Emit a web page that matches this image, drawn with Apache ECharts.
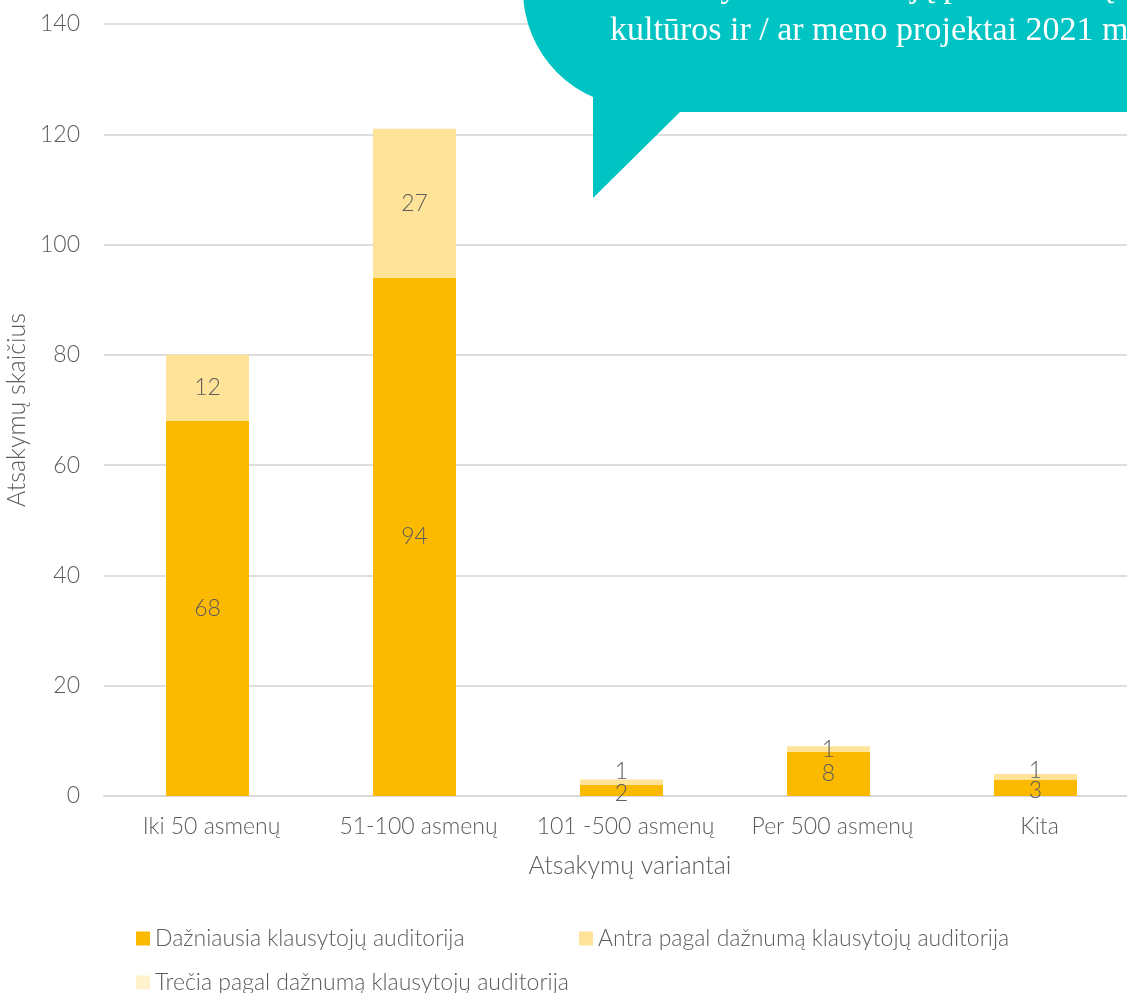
<!DOCTYPE html>
<html>
<head>
<meta charset="utf-8">
<script src="https://cdn.jsdelivr.net/npm/echarts@6/dist/echarts.min.js"></script>
<style>
html,body{margin:0;padding:0;background:#fff;overflow:hidden;width:1127px;height:993px;}
#chart{width:1139px;height:993px;}
</style>
</head>
<body>
<div id="chart"></div>
<script>
var categories = ['Iki 50 asmenų', '51-100 asmenų', '101 -500 asmenų', 'Per 500 asmenų', 'Kita'];
var seriesNames = ['Dažniausia klausytojų auditorija', 'Antra pagal dažnumą klausytojų auditorija', 'Trečia pagal dažnumą klausytojų auditorija'];
var dazniausia = [68, 94, 2, 8, 3];
var antra = [12, 27, 1, 1, 1];
var trecia = [0, 0, 0, 0, 0];
var yTicks = [0, 20, 40, 60, 80, 100, 120, 140];
var bubbleLine1 = 'Kokio dydžio auditoriją pasiekė Jūsų (organizacijos) įgyvendinti';
var bubbleLine2 = 'kultūros ir / ar meno projektai 2021 m.';

var FONT = 'Lato, "Noto Sans", sans-serif';
var TXT = '#5c5c5c';
var FW = 300;

var chart = echarts.init(document.getElementById('chart'));

function lbl() {
  return {
    show: true, position: 'inside', color: TXT, fontFamily: FONT, fontWeight: FW, fontSize: 23,
    formatter: function (p) { return p.value === 0 ? '' : p.value; }
  };
}

var antraData = antra.map(function (v, i) {
  var d = { value: v };
  if (i === 2) d.label = { offset: [0, -11] };
  if (i === 4) d.label = { offset: [0, -6] };
  return d;
});
var dazData = dazniausia.map(function (v, i) {
  var d = { value: v };
  if (i === 2) d.label = { offset: [0, 3] };
  if (i === 4) d.label = { offset: [0, 3] };
  return d;
});

var legendText = { color: TXT, fontFamily: FONT, fontWeight: FW, fontSize: 23, padding: [0, 0, 0, 0] };

chart.setOption({
  animation: false,
  grid: { left: 104, right: 0, top: 24, bottom: 197, containLabel: false, outerBoundsMode: 'none' },
  legend: [
    { data: [seriesNames[0]], left: 131, top: 922, icon: 'rect', itemWidth: 14, itemHeight: 14, itemGap: 0, textStyle: legendText },
    { data: [seriesNames[1]], left: 574, top: 922, icon: 'rect', itemWidth: 14, itemHeight: 14, itemGap: 0, textStyle: legendText },
    { data: [seriesNames[2]], left: 131, top: 966, icon: 'rect', itemWidth: 14, itemHeight: 14, itemGap: 0, textStyle: legendText }
  ],
  xAxis: {
    type: 'category',
    data: categories,
    name: 'Atsakymų variantai',
    nameLocation: 'middle',
    nameGap: 57,
    nameTextStyle: { color: TXT, fontFamily: FONT, fontWeight: FW, fontSize: 25, padding: [0, 0, 0, 17] },
    axisTick: { show: false },
    axisLine: { lineStyle: { color: '#D9D9D9', width: 2 } },
    axisLabel: { interval: 0, color: TXT, fontFamily: FONT, fontWeight: FW, fontSize: 23, margin: 19, padding: [0, 0, 0, 8] }
  },
  yAxis: {
    type: 'value',
    min: yTicks[0],
    max: yTicks[yTicks.length - 1],
    interval: 20,
    name: 'Atsakymų skaičius',
    nameLocation: 'middle',
    nameGap: 64,
    nameTextStyle: { color: TXT, fontFamily: FONT, fontWeight: FW, fontSize: 25 },
    axisLine: { show: false },
    axisTick: { show: false },
    axisLabel: { color: TXT, fontFamily: FONT, fontWeight: FW, fontSize: 23, margin: 24 },
    splitLine: { lineStyle: { color: '#DEDEDE', width: 2 } }
  },
  series: [
    { name: seriesNames[0], type: 'bar', stack: 'a', barWidth: 83, data: dazData,
      itemStyle: { color: '#FBB900' }, label: lbl() },
    { name: seriesNames[1], type: 'bar', stack: 'a', barWidth: 83, data: antraData,
      itemStyle: { color: '#FFE399' }, label: lbl() },
    { name: seriesNames[2], type: 'bar', stack: 'a', barWidth: 83, data: trecia,
      itemStyle: { color: '#FFF2CC' }, label: lbl() }
  ],
  graphic: [
    { type: 'circle', shape: { cx: 640, cy: -10, r: 117 }, style: { fill: '#00C4C4' }, z: 100 },
    { type: 'rect', shape: { x: 640, y: -30, width: 520, height: 142 }, style: { fill: '#00C4C4' }, z: 100 },
    { type: 'polygon', shape: { points: [[593, 60], [593, 198], [680, 112], [680, 60]] }, style: { fill: '#00C4C4' }, z: 100 },
    { type: 'text', left: 610, top: -29, z: 101,
      style: { text: bubbleLine1, fill: '#fff', font: '34px "Liberation Serif", "DejaVu Serif", serif' } },
    { type: 'text', left: 610, top: 14, z: 101,
      style: { text: bubbleLine2, fill: '#fff', font: '34px "Liberation Serif", "DejaVu Serif", serif' } }
  ]
});
</script>
</body>
</html>
